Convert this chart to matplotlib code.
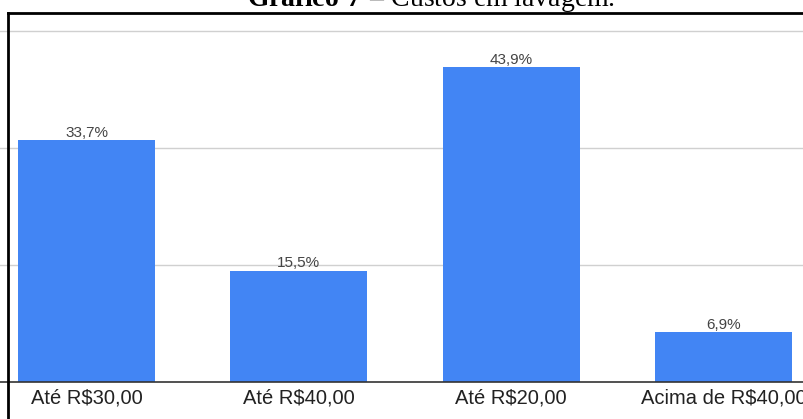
import numpy as np
import matplotlib.pyplot as plt
from matplotlib.lines import Line2D

plt.rcParams['mathtext.fontset'] = 'custom'
plt.rcParams['mathtext.rm'] = 'Liberation Serif'
plt.rcParams['mathtext.bf'] = 'Liberation Serif:bold'

# Data
categories = ['Até R$30,00', 'Até R$40,00', 'Até R$20,00', 'Acima de R$40,00']
percentages = [33.7, 15.5, 43.9, 6.9]
value_labels = ['33,7%', '15,5%', '43,9%', '6,9%']
grid_levels = [16.34, 32.68, 49.02]

W, H = 804, 419
fig = plt.figure(figsize=(W/100, H/100), dpi=100)

# Axes placed in pixel terms (chart is cropped on left/right)
x0, x1 = -19.5, 829.5
y_base, y_top = 381.5, 13
ax = fig.add_axes([x0/W, (H-y_base)/H, (x1-x0)/W, (y_base-y_top)/H])
px_per_pct = 7.16
ax.set_ylim(0, (y_base-y_top)/px_per_pct)
ax.set_xlim(-0.5, len(categories)-0.5)

for g in grid_levels:
    ax.axhline(g, color='#d0d0d0', lw=1.0, zorder=0)

x = np.arange(len(categories))
ax.bar(x, percentages, width=0.646, color='#4285F4', zorder=2)

for xi, v, lab in zip(x, percentages, value_labels):
    ax.annotate(lab, (xi, v), xytext=(0, 2.5), textcoords='offset points',
                ha='center', va='baseline', fontsize=11, color='#444444',
                family='Liberation Sans')

for s in ['top', 'right', 'left']:
    ax.spines[s].set_visible(False)
ax.spines['bottom'].set_color('#333333')
ax.spines['bottom'].set_linewidth(1.2)
ax.set_yticks([])
ax.set_xticks(x)
ax.set_xticklabels(categories, fontsize=14.5, color='#222222', family='Liberation Sans')
ax.tick_params(axis='x', length=0, pad=5)

# Frame lines from the document
fig.add_artist(Line2D([8/W, 8/W], [0, (H-13)/H], color='black', lw=2))
fig.add_artist(Line2D([8/W, 1], [(H-13)/H, (H-13)/H], color='black', lw=2))

# Cropped caption
fig.text(431/W, (H-6)/H, r'$\mathbf{Gráfico\ 7\ –}$ Custos em lavagem.', ha='center', va='baseline',
         fontsize=20, family='Liberation Serif', color='black')

fig.savefig('out.png', dpi=100)
